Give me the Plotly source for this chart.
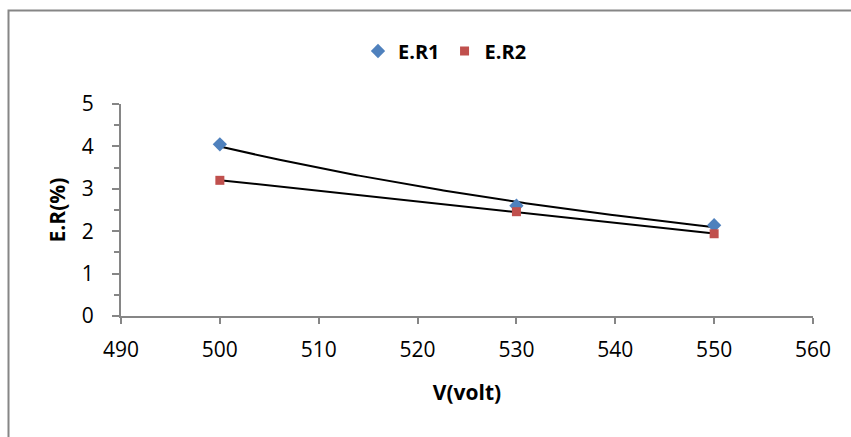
import numpy as np
import plotly.graph_objects as go

# ---- data ----
voltage = [500, 530, 550]
er1 = [4.05, 2.60, 2.14]
er2 = [3.20, 2.46, 1.94]
x_ticks = [490, 500, 510, 520, 530, 540, 550, 560]
y_ticks = [0, 1, 2, 3, 4, 5]

# ---- trendlines computed from data ----
xs = np.linspace(min(voltage), max(voltage), 200)
# power trendline for E.R1
b1, a1 = np.polyfit(np.log(voltage), np.log(er1), 1)
ys1 = np.exp(a1) * xs ** b1
# linear trendline for E.R2
m2, c2 = np.polyfit(voltage, er2, 1)
ys2 = m2 * xs + c2

W, H = 851, 437
L, R, T, B = 121, 813, 104, 316
pw, ph = R - L, B - T

def px_x(p):
    return (p - L) / pw

def px_y(p):
    return (B - p) / ph

fig = go.Figure()
fig.add_trace(go.Scatter(x=xs, y=ys1, mode="lines", line=dict(color="black", width=2),
                         showlegend=False, hoverinfo="skip"))
fig.add_trace(go.Scatter(x=xs, y=ys2, mode="lines", line=dict(color="black", width=2),
                         showlegend=False, hoverinfo="skip"))
fig.add_trace(go.Scatter(x=voltage, y=er1, mode="markers", name="E.R1",
                         marker=dict(symbol="diamond", size=11, color="#4F81BD")))
fig.add_trace(go.Scatter(x=voltage, y=er2, mode="markers", name="E.R2",
                         marker=dict(symbol="square", size=9, color="#C0504D")))

axis_color = "#868686"
tick_font = dict(family="Open Sans", size=21, color="black")
title_font = dict(family="Open Sans", size=21, color="black", weight="bold")

fig.update_layout(
    width=W, height=H,
    margin=dict(l=L, r=W - R, t=T, b=H - B, autoexpand=False),
    paper_bgcolor="white", plot_bgcolor="white",
    showlegend=True,
    legend=dict(orientation="h", x=px_x(445), y=px_y(51), xanchor="center", yanchor="middle",
                font=dict(family="Open Sans", size=20, color="black", weight="bold"),
                itemwidth=30, tracegroupgap=0, bgcolor="rgba(0,0,0,0)"),
    xaxis=dict(range=[490, 560], tickvals=x_ticks, ticks="outside", ticklen=6,
               tickcolor=axis_color, tickwidth=2, showline=True, linecolor=axis_color,
               linewidth=2, showgrid=False, zeroline=False, tickfont=tick_font,
               ticklabelstandoff=8,
               title=dict(text="V(volt)", font=title_font, standoff=23)),
    yaxis=dict(range=[0, 5], tickvals=y_ticks, ticks="outside", ticklen=7,
               tickcolor=axis_color, tickwidth=2, showline=True, linecolor=axis_color,
               linewidth=2, showgrid=False, zeroline=False, tickfont=tick_font,
               ticklabelstandoff=14,
               minor=dict(dtick=0.5, ticks="outside", ticklen=5, tickcolor=axis_color,
                          tickwidth=2, showgrid=False),
               title=dict(text="E.R(%)", font=title_font, standoff=10)),
    shapes=[dict(type="rect", xref="paper", yref="paper",
                 x0=px_x(8.5), x1=px_x(W + 20), y0=px_y(H + 20), y1=px_y(10.5),
                 line=dict(color=axis_color, width=2), fillcolor="rgba(0,0,0,0)", layer="below")],
)

fig.write_html("out.html")
